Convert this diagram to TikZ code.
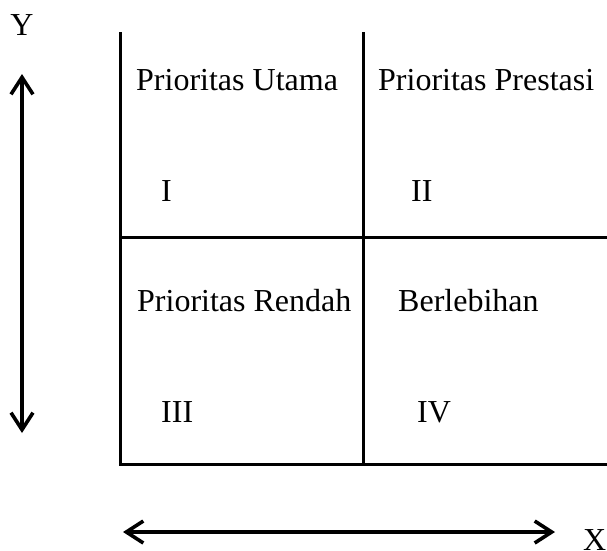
\documentclass[tikz,border=0pt]{standalone}
\usepackage{fontspec}
\setmainfont{Liberation Serif}
\usetikzlibrary{arrows.meta}
\begin{document}
\begin{tikzpicture}[x=1pt,y=-1pt,
  lbl/.style={inner sep=0pt,anchor=base west,font=\fontsize{32}{38}\selectfont},
  gridline/.style={line width=3pt},
  axisarrow/.style={line width=3.6pt,{Straight Barb[length=17pt,width=22pt]}-{Straight Barb[length=17pt,width=22pt]}}]
\useasboundingbox (0,0) rectangle (607,550);
% grid corners
\coordinate (tl) at (120.5,32);
\coordinate (bl) at (120.5,464);
\coordinate (tm) at (363,32);
\coordinate (bm) at (363,464);
\coordinate (ml) at (120.5,237.5);
\coordinate (mr) at (607,237.5);
\coordinate (br) at (607,464);
\draw[gridline] (tl) -- (bl) -- (br);
\draw[gridline] (tm) -- (bm);
\draw[gridline] (ml) -- (mr);
% axes
\coordinate (yt) at (22,74);
\coordinate (yb) at (22,433);
\coordinate (xl) at (123,532);
\coordinate (xr) at (555,532);
\draw[axisarrow] (yb) -- (yt);
\draw[axisarrow] (xl) -- (xr);
\node[lbl,anchor=base] (ylab) at (22,35) {Y};
\node[lbl] (xlab) at (583,550) {X};
% quadrant texts
\node[lbl] (q1) at (136,90) {Prioritas Utama};
\node[lbl] (q2) at (378,90) {Prioritas Prestasi};
\node[lbl] (q3) at (137,311) {Prioritas Rendah};
\node[lbl] (q4) at (398,311) {Berlebihan};
\node[lbl] (n1) at (161,201) {I};
\node[lbl] (n2) at (411,201) {II};
\node[lbl] (n3) at (161,422) {III};
\node[lbl] (n4) at (417,422) {IV};
\end{tikzpicture}
\end{document}
